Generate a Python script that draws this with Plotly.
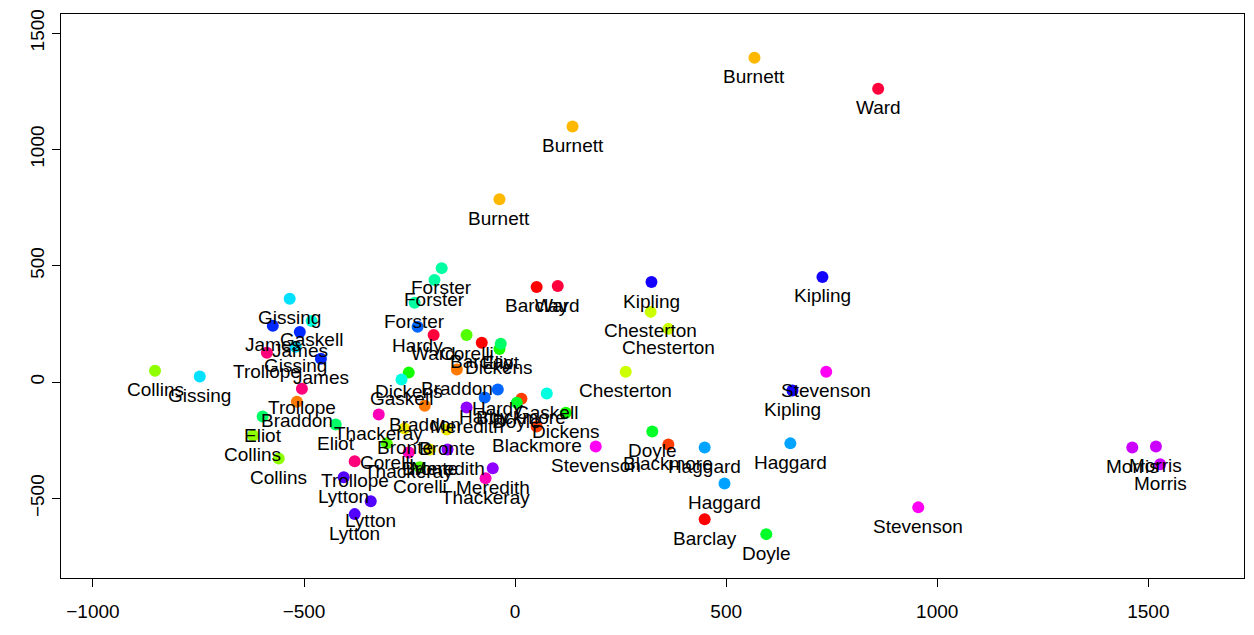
import plotly.graph_objects as go

# ---- data -------------------------------------------------------------
authors = ["Barclay", "Blackmore", "Braddon", "Burnett", "Bronte", "Chesterton",
           "Collins", "Corelli", "Dickens", "Doyle", "Eliot", "Forster", "Gaskell",
           "Gissing", "Haggard", "Hardy", "James", "Kipling", "Lytton", "Meredith",
           "Morris", "Stevenson", "Thackeray", "Trollope", "Ward"]
author_colors = ["#FF0000", "#FF3D00", "#FF7A00", "#FFB800", "#F0E800", "#CCFF00",
                 "#8FFF00", "#52FF00", "#14FF00", "#00FF29", "#00FF66", "#00FFA3",
                 "#00FFE0", "#00E0FF", "#00A3FF", "#0066FF", "#0029FF", "#1400FF",
                 "#5200FF", "#8F00FF", "#CC00FF", "#FF00F5", "#FF00B8", "#FF007A",
                 "#FF003D"]

point_author = (["Barclay"] * 3 + ["Blackmore"] * 3 + ["Braddon"] * 3 + ["Bronte"] * 3 +
                ["Burnett"] * 3 + ["Chesterton"] * 3 + ["Collins"] * 3 + ["Corelli"] * 3 +
                ["Dickens"] * 3 + ["Doyle"] * 3 + ["Eliot"] * 3 + ["Forster"] * 3 +
                ["Gaskell"] * 3 + ["Gissing"] * 3 + ["Haggard"] * 3 + ["Hardy"] * 3 +
                ["James"] * 3 + ["Kipling"] * 3 + ["Lytton"] * 3 + ["Meredith"] * 3 +
                ["Morris"] * 3 + ["Stevenson"] * 3 + ["Thackeray"] * 3 + ["Trollope"] * 3 +
                ["Ward"] * 3)

x_vals = [51, -79, 449,        # Barclay
          15, 51, 363,         # Blackmore
          -517, -138, -214,    # Braddon
          -262, -162, -202,    # Bronte
          567, 136, -37,       # Burnett
          321, 363, 262,       # Chesterton
          -853, -621, -560,    # Collins
          -115, -304, -226,    # Corelli
          -252, -37, 120,      # Dickens
          4, 325, 595,         # Doyle
          -598, -425, -34,     # Eliot
          -174, -191, -238,    # Forster
          -482, -269, 75,      # Gaskell
          -534, -520, -747,    # Gissing
          449, 496, 652,       # Haggard
          -231, -41, -72,      # Hardy
          -574, -510, -460,    # James
          323, 728, 657,       # Kipling
          -406, -342, -380,    # Lytton
          -115, -160, -53,     # Meredith
          1462, 1518, 1528,    # Morris
          191, 737, 955,       # Stevenson
          -323, -252, -70,     # Thackeray
          -588, -505, -380,    # Trollope
          860, 101, -193]      # Ward

y_vals = [409, 169, -589,      # Barclay
          -71, -191, -268,     # Blackmore
          -84, 54, -101,       # Braddon
          -199, -203, -289,    # Bronte
          1394, 1099, 786,     # Burnett
          302, 229, 45,        # Chesterton
          49, -229, -328,      # Collins
          203, -263, -366,     # Corelli
          41, 143, -131,       # Dickens
          -88, -212, -653,     # Doyle
          -148, -182, 165,     # Eliot
          490, 439, 341,       # Forster
          263, 11, -49,        # Gaskell
          358, 152, 24,        # Gissing
          -281, -435, -263,    # Haggard
          238, -32, -66,       # Hardy
          242, 216, 101,       # James
          430, 452, -36,       # Kipling
          -409, -512, -567,    # Lytton
          -109, -289, -370,    # Meredith
          -281, -276, -353,    # Morris
          -276, 45, -538,      # Stevenson
          -139, -302, -413,    # Thackeray
          126, -28, -340,      # Trollope
          1261, 413, 203]      # Ward

x_ticks = [-1000, -500, 0, 500, 1000, 1500]
x_tick_text = ["\u22121000", "\u2212500", "0", "500", "1000", "1500"]
y_ticks = [-500, 0, 500, 1000, 1500]
y_tick_text = ["\u2212500", "0", "500", "1000", "1500"]

# ---- figure -----------------------------------------------------------
FONT = "Liberation Sans, Arial, Helvetica, sans-serif"
color_map = dict(zip(authors, author_colors))

fig = go.Figure()
fig.add_trace(go.Scatter(
    x=x_vals, y=y_vals, mode="markers",
    marker=dict(size=12, color=[color_map[a] for a in point_author], line=dict(width=0)),
    hoverinfo="skip", showlegend=False))

for a, xv, yv in zip(point_author, x_vals, y_vals):
    fig.add_annotation(x=xv, y=yv, xref="x", yref="y", text=a, showarrow=False,
                       yshift=-19, xanchor="center", yanchor="middle",
                       font=dict(family=FONT, size=19, color="black"))

axis_common = dict(showgrid=False, zeroline=False, showline=True, mirror=True,
                   linecolor="black", linewidth=1, ticks="outside", ticklen=8,
                   tickcolor="black", tickwidth=1,
                   tickfont=dict(family=FONT, size=19, color="black"))

fig.update_xaxes(range=[-1075.7, 1726.6], tickvals=x_ticks, ticktext=x_tick_text,
                 ticklabelstandoff=8, **axis_common)
fig.update_yaxes(range=[-841.5, 1582], tickvals=y_ticks, ticktext=y_tick_text,
                 tickangle=-90, ticklabelstandoff=0, **axis_common)

fig.update_layout(width=1254, height=635,
                  margin=dict(l=61, r=9, t=12, b=57),
                  plot_bgcolor="white", paper_bgcolor="white",
                  showlegend=False)

fig.write_html("out.html")
